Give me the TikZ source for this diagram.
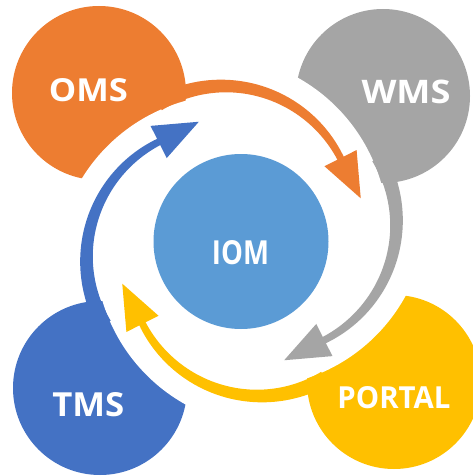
\documentclass[tikz,border=0pt]{standalone}
\usepackage{fontspec}
\setmainfont{Open Sans}
\definecolor{cOMS}{HTML}{ED7D31}
\definecolor{cWMS}{HTML}{A5A5A5}
\definecolor{cPORTAL}{HTML}{FFC000}
\definecolor{cTMS}{HTML}{4472C4}
\definecolor{cIOM}{HTML}{5B9BD5}
\newcommand\fitlabel[3]{\resizebox{#1pt}{#2pt}{\bfseries #3}}
\newcommand\ringarrow[1]{%
  \fill[#1] plot[domain=120:26.7,samples=60]
      ({223.5+(131+(7+(\x-26.7)*0.0887)/2)*cos(\x)},{217-(131+(7+(\x-26.7)*0.0887)/2)*sin(\x)})
    -- ({223.5+149*cos(26.7)},{217-149*sin(26.7)})
    -- ({223.5+131*cos(26.7)+45*sin(26.7)},{217-131*sin(26.7)+45*cos(26.7)})
    -- ({223.5+113*cos(26.7)},{217-113*sin(26.7)})
    -- plot[domain=26.7:120,samples=60]
      ({223.5+(131-(7+(\x-26.7)*0.0887)/2)*cos(\x)},{217-(131-(7+(\x-26.7)*0.0887)/2)*sin(\x)})
    -- cycle;}
\begin{document}
\begin{tikzpicture}[x=1pt,y=-1pt,
  disc/.style={circle,inner sep=0pt,minimum size=174pt},
  lbl/.style={text=white,inner sep=0pt,anchor=base}]
\useasboundingbox (0,0) rectangle (473,476);
\clip (0,0) rectangle (473,476);
% corner circles
\node[disc,fill=cOMS] (oms) at (99,93) {};
\node[disc,fill=cWMS] (wms) at (383,96) {};
\node[disc,fill=cPORTAL] (portal) at (394,382) {};
\node[disc,fill=cTMS] (tms) at (100,388) {};
% white ring cut
\foreach \a in {0,-90,180,90}{
  \fill[white,rotate around={\a:(241.5,241)}]
    plot[domain=168:80,samples=50] ({231.8+176*cos(\x)},{270.6-176*sin(\x)})
    -- (241.5,241) -- cycle;
}
% centre
\node[disc,fill=cIOM,minimum size=175pt] (iom) at (241,241.5) {};
% arrows
\ringarrow{cOMS}
\begin{scope}[rotate around={-90:(241.5,241)}]\ringarrow{cWMS}\end{scope}
\begin{scope}[rotate around={180:(241.5,241)}]\ringarrow{cPORTAL}\end{scope}
\begin{scope}[rotate around={90:(241.5,241)}]\ringarrow{cTMS}\end{scope}
% labels
\node[lbl] (omsT) at (88.3,101.7) {\fitlabel{79}{23}{OMS}};
\node[lbl] (wmsT) at (406,104) {\fitlabel{89}{23.5}{WMS}};
\node[lbl] (portalT) at (394,408.7) {\fitlabel{113}{22}{PORTAL}};
\node[lbl] (tmsT) at (88.3,416.5) {\fitlabel{72}{24}{TMS}};
\node[lbl] (iomT) at (240.5,264) {\fitlabel{57}{24}{IOM}};
\end{tikzpicture}
\end{document}
